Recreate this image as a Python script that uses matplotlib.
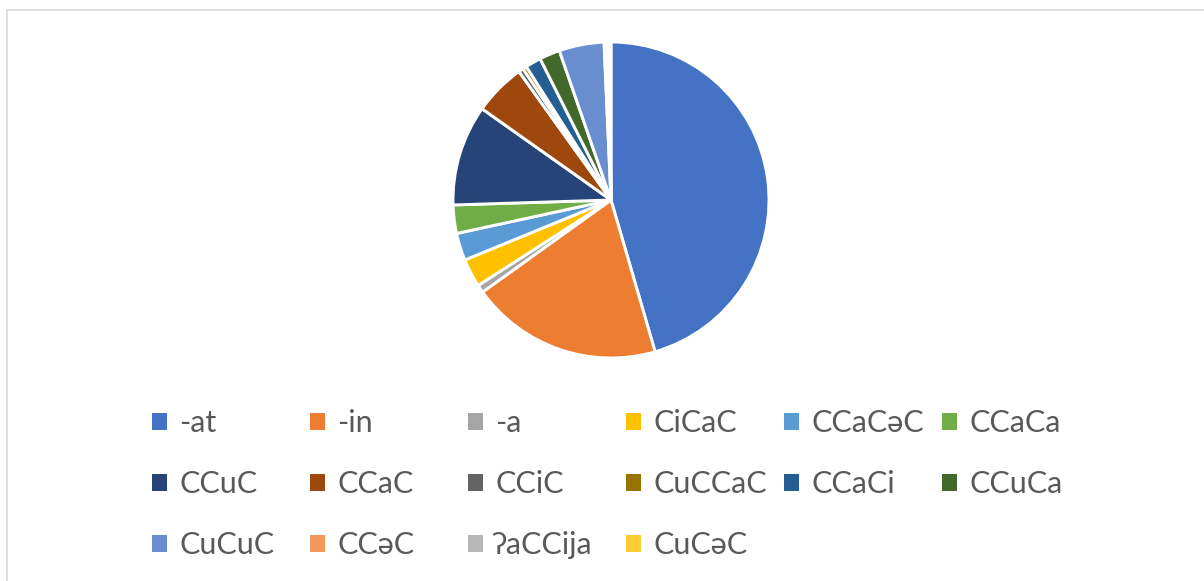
import matplotlib
matplotlib.use("Agg")
import matplotlib.pyplot as plt
from matplotlib.patches import Patch, Rectangle

plt.rcParams['font.family'] = ['Lato', 'DejaVu Sans']

labels = ['-at', '-in', '-a', 'CiCaC', 'CCaCəC', 'CCaCa', 'CCuC', 'CCaC', 'CCiC',
          'CuCCaC', 'CCaCi', 'CCuCa', 'CuCuC', 'CCəC', 'ʔaCCija', 'CuCəC']
values = [45.5, 19.6, 0.8, 2.9, 2.8, 2.9, 10.3, 5.3, 0.5,
          0.4, 1.6, 2.1, 4.6, 0.3, 0.2, 0.2]
colors = ['#4472C4', '#ED7D31', '#A5A5A5', '#FFC000', '#5B9BD5', '#70AD47',
          '#264478', '#9E480E', '#636363', '#997300', '#255E91', '#43682B',
          '#698ED0', '#F1975A', '#B7B7B7', '#FFCD33']

W, H = 1204, 581
fig = plt.figure(figsize=(W / 100, H / 100), dpi=100)

# chart-area border (right and bottom edges lie outside the image)
fig.patches.append(Rectangle((7 / W, -0.2), 1.2, 1.2 - 10 / H, transform=fig.transFigure,
                             fill=False, edgecolor='#D9D9D9', linewidth=1.2))

cx, cy, r = 611, 200, 158
ax = fig.add_axes([(cx - r) / W, (H - cy - r) / H, 2 * r / W, 2 * r / H])
ax.pie(values, colors=colors, startangle=90, counterclock=False,
       wedgeprops=dict(edgecolor='white', linewidth=2.1))
ax.set_xlim(-1, 1)
ax.set_ylim(-1, 1)
ax.set_aspect('equal')
ax.axis('off')

# legend: 6 equally spaced columns, filled row by row
ncol = 6
col_x0, col_dx = 152, 158
top_y = 409
fs = 22
for c in range(ncol):
    idx = list(range(c, len(labels), ncol))
    handles = [Patch(facecolor=colors[i], edgecolor='none') for i in idx]
    fig.legend(handles, [labels[i] for i in idx], loc='upper left',
               bbox_to_anchor=((col_x0 + c * col_dx) / W, 1 - top_y / H),
               frameon=False, fontsize=fs, labelcolor='#595959',
               handlelength=0.49, handleheight=0.49, handletextpad=0.4,
               labelspacing=1.08, borderpad=0, borderaxespad=0)

fig.savefig('out.png', dpi=100)
